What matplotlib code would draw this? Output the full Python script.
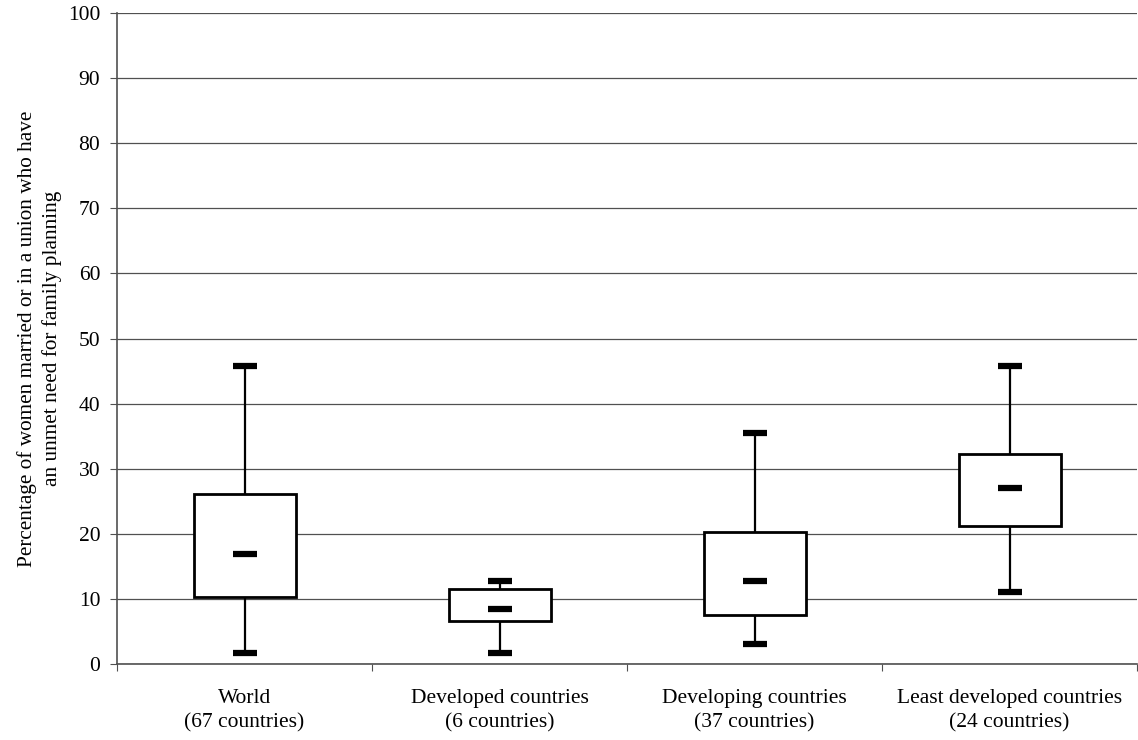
import matplotlib
matplotlib.use('Agg')
import matplotlib.pyplot as plt

plt.rcParams['font.family'] = ['Liberation Serif', 'DejaVu Serif']

# box statistics (percent)
groups = ['World\n(67 countries)', 'Developed countries\n(6 countries)',
          'Developing countries\n(37 countries)', 'Least developed countries\n(24 countries)']
low = [1.7, 1.7, 3.0, 11.1]
q1 = [10.3, 6.6, 7.5, 21.2]
median = [16.9, 8.4, 12.8, 27.1]
q3 = [26.1, 11.5, 20.3, 32.2]
high = [45.8, 12.8, 35.5, 45.8]

fig = plt.figure(figsize=(11.38, 7.40), dpi=100)
ax = fig.add_axes([117 / 1138, 1 - 664 / 740, 1020 / 1138, 651 / 740])

centers = [i + 0.5 for i in range(len(groups))]

# grid first so boxes sit on top
ax.set_ylim(0, 100)
ax.set_xlim(0, 4)
ax.set_yticks(range(0, 101, 10))
ax.yaxis.grid(True, color='#505050', linewidth=0.9)
ax.set_axisbelow(True)

# whiskers
ax.vlines(centers, low, q3, color='black', linewidth=1.6, zorder=2)
ax.vlines(centers, q1, high, color='black', linewidth=1.6, zorder=2)

# boxes
ax.bar(centers, [b - a for a, b in zip(q1, q3)], bottom=q1, width=0.4,
       facecolor='white', edgecolor='black', linewidth=2.0, zorder=3)

# caps and medians as short thick dashes
dash = dict(linestyle='none', marker='_', markersize=17, markeredgewidth=4.5,
            color='black', zorder=4)
ax.plot(centers, low, **dash)
ax.plot(centers, high, **dash)
ax.plot(centers, median, **dash)

# axes styling
for side in ['top', 'right']:
    ax.spines[side].set_visible(False)
ax.spines['left'].set_color('#505050')
ax.spines['bottom'].set_color('#505050')
ax.spines['left'].set_linewidth(1.2)
ax.spines['bottom'].set_linewidth(1.2)

ax.set_xticks(range(0, 5))
ax.set_xticklabels([])
ax.set_xticks(centers, minor=True)
ax.set_xticklabels(groups, minor=True, fontsize=15.5, linespacing=1.4)
ax.tick_params(axis='x', which='major', direction='out', length=5, color='#505050')
ax.tick_params(axis='x', which='minor', length=0, pad=18)
ax.tick_params(axis='y', direction='out', length=5, color='#505050', labelsize=15.5, pad=7)

ax.set_ylabel('Percentage of women married or in a union who have\nan unmet need for family planning',
              fontsize=15.3, labelpad=4, linespacing=1.4)

fig.savefig('out.png', dpi=100)
